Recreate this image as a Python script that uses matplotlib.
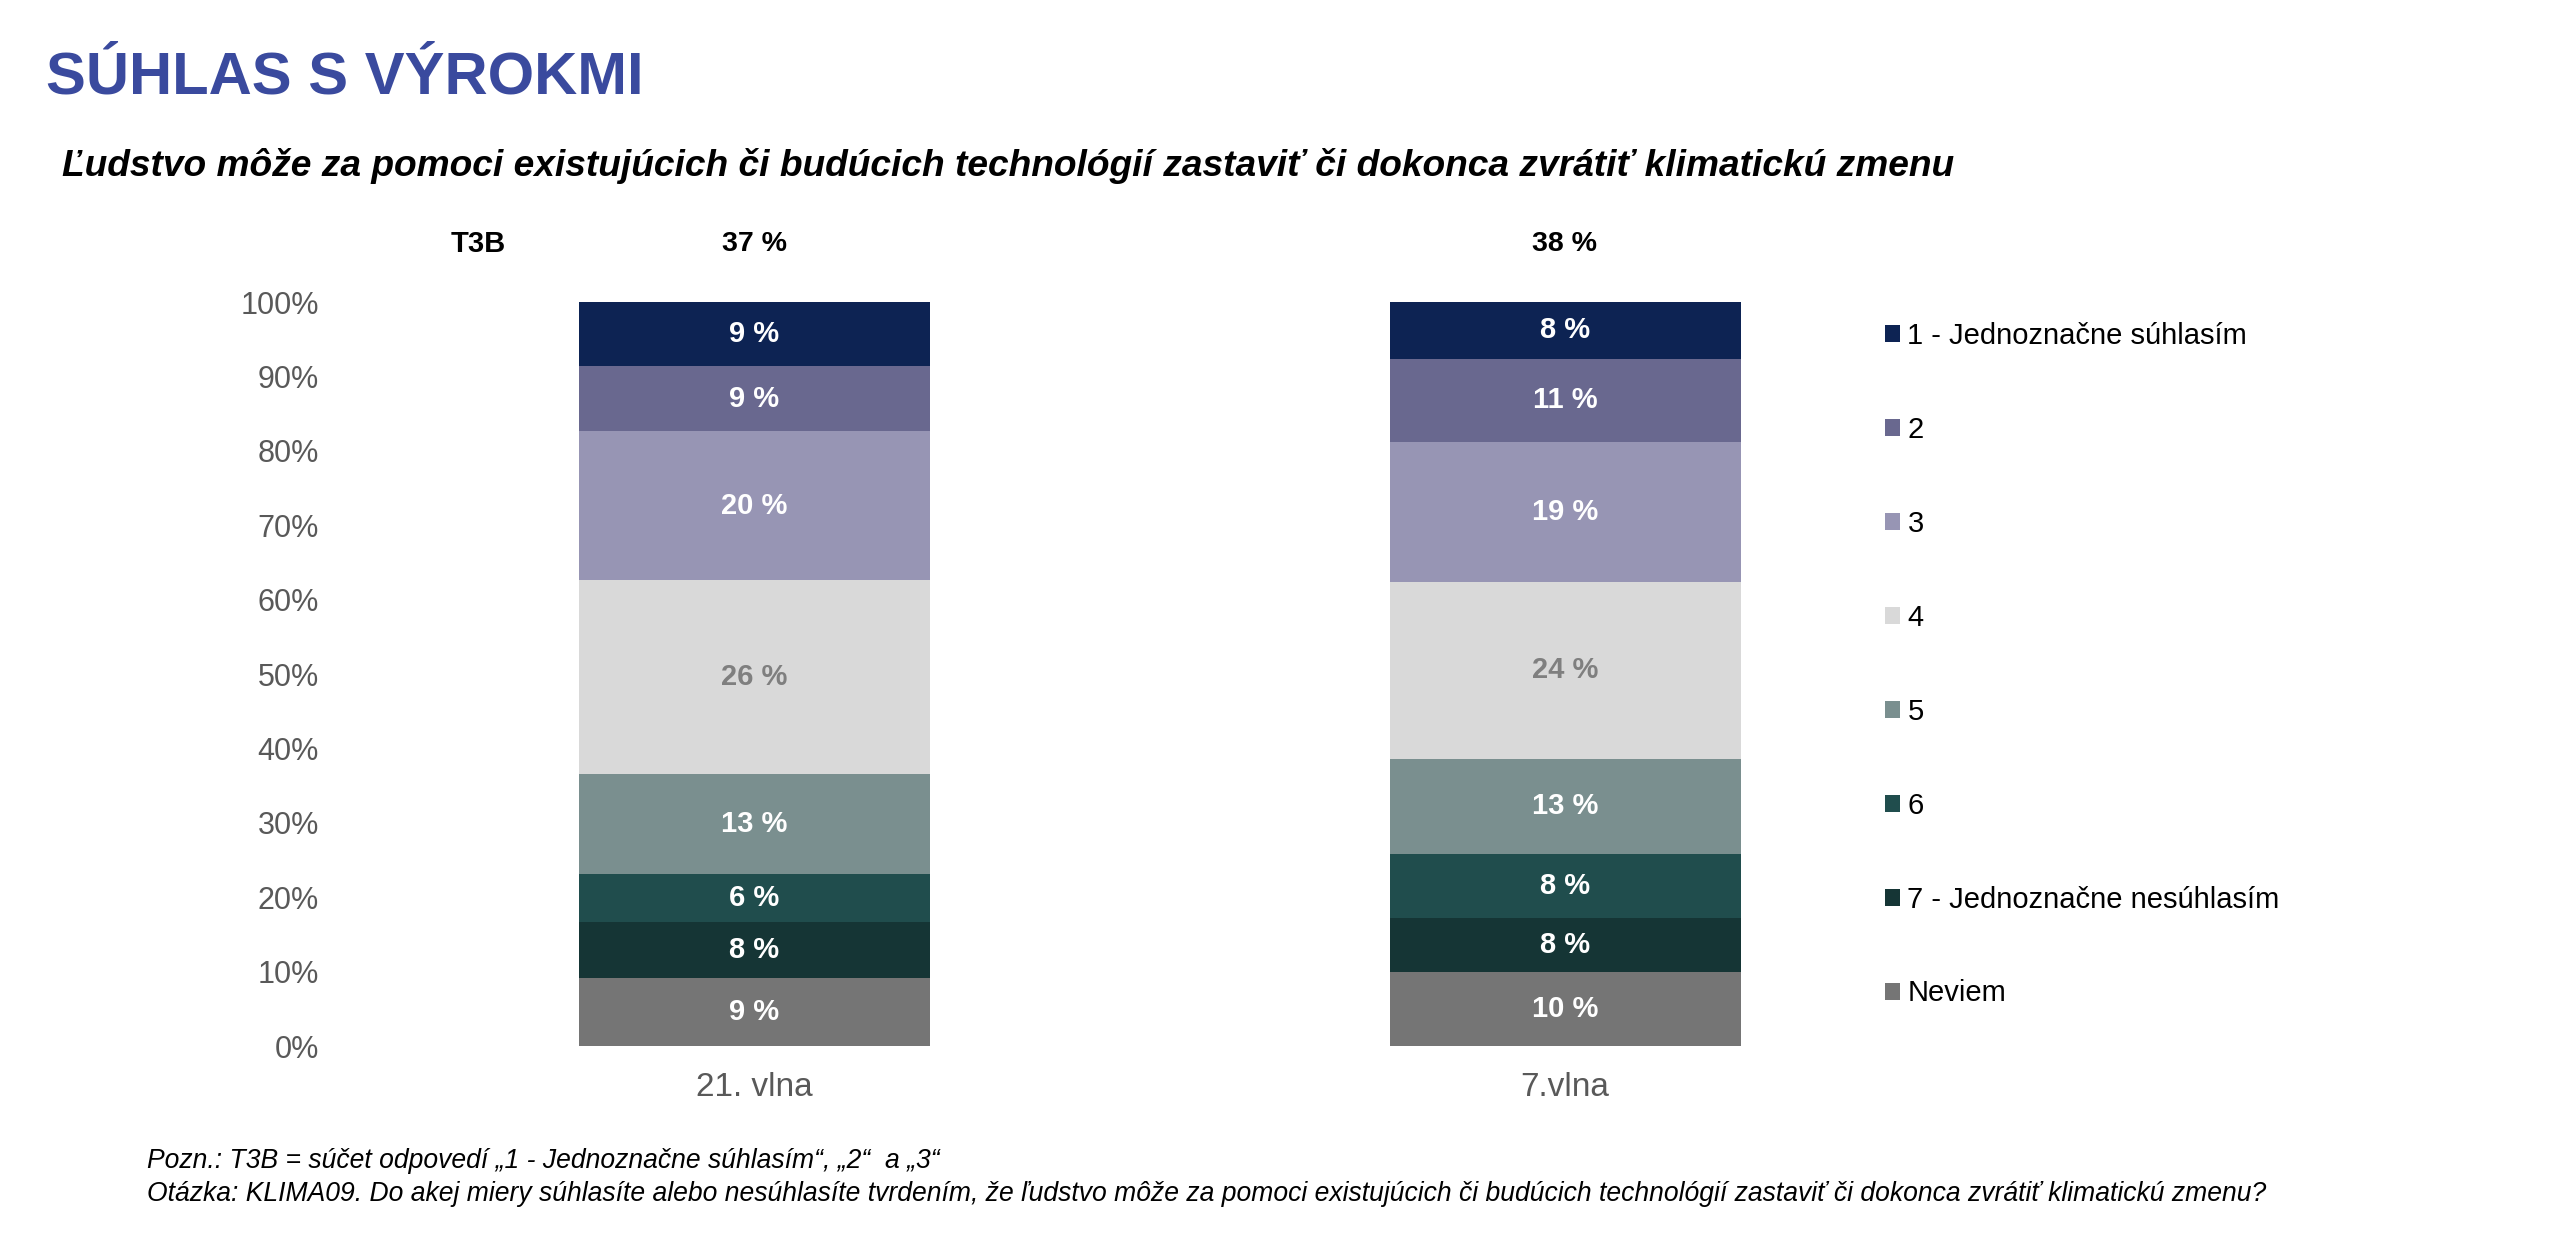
import matplotlib
matplotlib.use('Agg')
import matplotlib.pyplot as plt
from matplotlib.patches import Patch
from matplotlib.transforms import blended_transform_factory

plt.rcParams['font.family'] = ['Liberation Sans', 'DejaVu Sans']

# ---------------- data ----------------
waves = ['21. vlna', '7.vlna']
categories = ['1 - Jednoznačne súhlasím', '2', '3', '4', '5', '6',
              '7 - Jednoznačne nesúhlasím', 'Neviem']
values_21 = [8.6, 8.8, 20.0, 26.1, 13.4, 6.4, 7.5, 9.2]
values_7 = [7.6, 11.2, 18.8, 23.8, 12.8, 8.6, 7.3, 9.9]
labels_21 = ['9 %', '9 %', '20 %', '26 %', '13 %', '6 %', '8 %', '9 %']
labels_7 = ['8 %', '11 %', '19 %', '24 %', '13 %', '8 %', '8 %', '10 %']
t3b_values = ['37 %', '38 %']
ytick_values = [0, 10, 20, 30, 40, 50, 60, 70, 80, 90, 100]
ytick_labels = ['0%', '10%', '20%', '30%', '40%', '50%', '60%', '70%', '80%', '90%', '100%']

title = 'SÚHLAS S VÝROKMI'
subtitle = ('Ľudstvo môže za pomoci existujúcich či budúcich technológií '
            'zastaviť či dokonca zvrátiť klimatickú zmenu')
note1 = 'Pozn.: T3B = súčet odpovedí „1 - Jednoznačne súhlasím“, „2“  a „3“'
note2 = ('Otázka: KLIMA09. Do akej miery súhlasíte alebo nesúhlasíte tvrdením, '
         'že ľudstvo môže za pomoci existujúcich či budúcich technológií '
         'zastaviť či dokonca zvrátiť klimatickú zmenu?')

# ---------------- style ----------------
colors = ['#0D2353', '#69688F', '#9795B4', '#D9D9D9', '#7A8F8F',
          '#204D4D', '#153535', '#757575']
text_colors = ['white', 'white', 'white', '#7F7F7F', 'white',
               'white', 'white', 'white']

W, H = 2560, 1250
fig = plt.figure(figsize=(W / 100, H / 100), dpi=100)
fig.patch.set_facecolor('white')

ax_left, ax_right = 330, 1850
ax_bottom_px, ax_top_px = 1046, 302
ax = fig.add_axes([ax_left / W, 1 - ax_bottom_px / H,
                   (ax_right - ax_left) / W, (ax_bottom_px - ax_top_px) / H])

unit = 810.5
bar_w = 351 / unit
xlim_left = -(754.5 - ax_left) / unit
xlim_right = xlim_left + (ax_right - ax_left) / unit
ax.set_xlim(xlim_left, xlim_right)
ax.set_ylim(0, 100)

series = [values_21, values_7]
series_labels = [labels_21, labels_7]
x_pos = list(range(len(waves)))

for xi, vals, labs in zip(x_pos, series, series_labels):
    bottom = 0.0
    for idx in reversed(range(len(categories))):
        v = vals[idx]
        ax.bar(xi, v, width=bar_w, bottom=bottom, color=colors[idx],
               edgecolor='none', linewidth=0)
        ax.text(xi, bottom + v / 2, labs[idx], ha='center', va='center',
                fontsize=21, fontweight='bold', color=text_colors[idx])
        bottom += v

for s in ax.spines.values():
    s.set_visible(False)
ax.set_yticks(ytick_values)
ax.set_yticklabels(ytick_labels)
ax.set_xticks(x_pos)
ax.set_xticklabels(waves)
ax.tick_params(axis='y', length=0, pad=8, labelsize=22, labelcolor='#595959')
ax.tick_params(axis='x', length=0, pad=19, labelsize=24, labelcolor='#595959')

# legend
handles = [Patch(facecolor=c, edgecolor='none') for c in colors]
fig.legend(handles, categories, loc='upper left',
           bbox_to_anchor=(1885 / W, 1 - 322 / H), bbox_transform=fig.transFigure,
           frameon=False, fontsize=21, handlelength=0.52, handleheight=0.52,
           handletextpad=0.25, labelspacing=2.26, borderpad=0, borderaxespad=0)

# titles
fig.text(46 / W, 1 - 93 / H, title, ha='left', va='baseline', fontsize=43,
         fontweight='bold', color='#3A4A9E')
fig.text(62 / W, 1 - 166 / H, subtitle, ha='left', va='center', fontsize=26.7,
         fontweight='bold', fontstyle='italic', color='black')

# T3B row
fig.text(478 / W, 1 - 244 / H, 'T3B', ha='center', va='center', fontsize=21,
         fontweight='bold', color='black')
trans = blended_transform_factory(ax.transData, fig.transFigure)
for xi, t in zip(x_pos, t3b_values):
    ax.text(xi, 1 - 244 / H, t, transform=trans, ha='center', va='center',
            fontsize=20.5, fontweight='bold', color='black')

# notes
fig.text(147 / W, 1 - 1161 / H, note1, ha='left', va='center', fontsize=19.1,
         fontstyle='italic', color='black')
fig.text(147 / W, 1 - 1194 / H, note2, ha='left', va='center', fontsize=19.1,
         fontstyle='italic', color='black')

fig.savefig('out.png', dpi=100, facecolor='white')
